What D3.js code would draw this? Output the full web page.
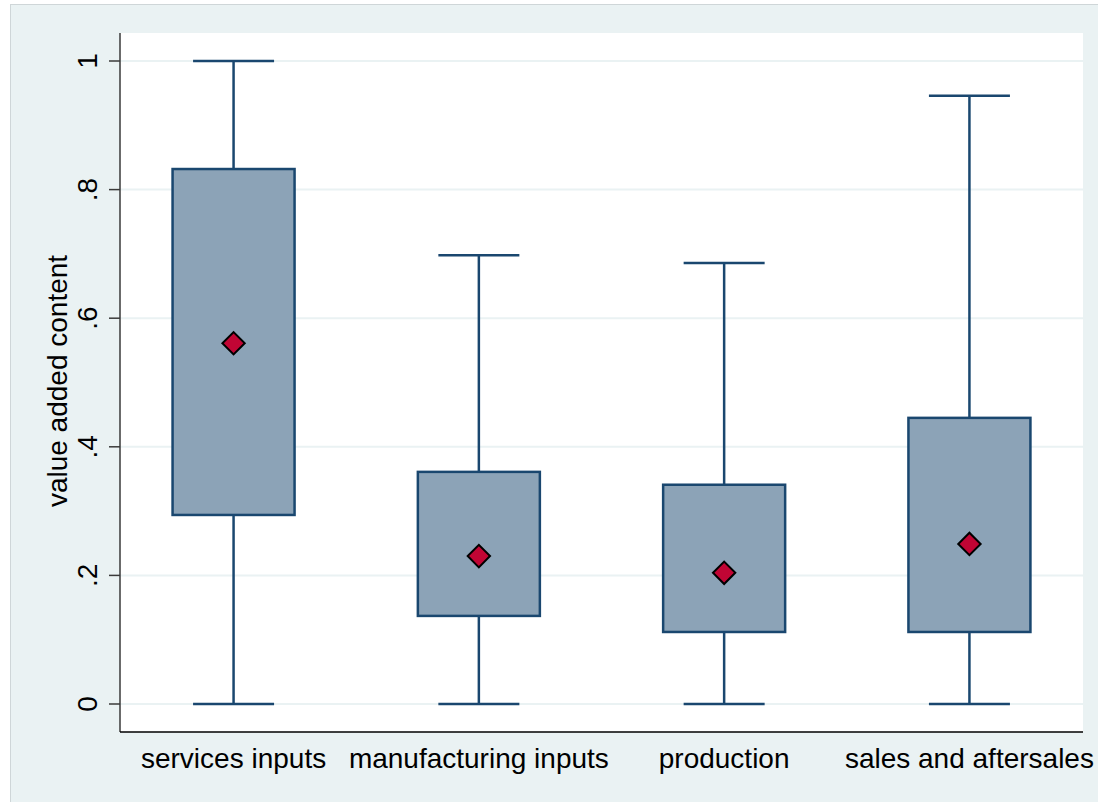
<!DOCTYPE html>
<html>
<head>
<meta charset="utf-8">
<script src="https://cdn.jsdelivr.net/npm/d3@7/dist/d3.min.js"></script>
<style>
  html, body { margin: 0; padding: 0; background: #ffffff; }
  svg { display: block; }
  text { font-family: "Liberation Sans", Arial, sans-serif; fill: #000; }
</style>
</head>
<body>
<svg id="chart" width="1098" height="802"></svg>
<script>
// Value added content by stage of the value chain
const categories = ["services inputs", "manufacturing inputs", "production", "sales and aftersales"];
const whiskerLow  = [0, 0, 0, 0];
const q1          = [0.294, 0.137, 0.112, 0.112];
const q3          = [0.832, 0.361, 0.341, 0.445];
const whiskerHigh = [1.0, 0.698, 0.686, 0.946];
const means       = [0.561, 0.230, 0.204, 0.249];
const yTicks      = [0, 0.2, 0.4, 0.6, 0.8, 1];
const yTickLabels = ["0", ".2", ".4", ".6", ".8", "1"];

const rows = categories.map((c, i) => ({
  cat: c, lo: whiskerLow[i], q1: q1[i], q3: q3[i], hi: whiskerHigh[i], mean: means[i]
}));

const svg = d3.select("#chart");
const W = 1098, H = 802;
const plot = { left: 120, right: 1083, top: 33, bottom: 732 };

// outer graph region
svg.append("rect")
  .attr("x", 10.5).attr("y", 4.5)
  .attr("width", W).attr("height", H)
  .attr("fill", "#eaf2f3")
  .attr("stroke", "#cfd6d8").attr("stroke-width", 1);

// plot region
svg.append("rect")
  .attr("x", plot.left).attr("y", plot.top)
  .attr("width", plot.right - plot.left).attr("height", plot.bottom - plot.top)
  .attr("fill", "#ffffff");

const y = d3.scaleLinear().domain([0, 1]).range([704, 61]);
const x = d3.scalePoint().domain(categories).range([plot.left, plot.right]).padding(0.463);

// gridlines
svg.append("g").selectAll("line").data(yTicks).join("line")
  .attr("x1", plot.left).attr("x2", plot.right)
  .attr("y1", d => y(d)).attr("y2", d => y(d))
  .attr("stroke", "#eaf2f3").attr("stroke-width", 2);

// boxes
const boxW = 122, capW = 81;
const stroke = "#1a476f";
const g = svg.append("g");
rows.forEach(r => {
  const cx = x(r.cat);
  g.append("line").attr("x1", cx).attr("x2", cx).attr("y1", y(r.hi)).attr("y2", y(r.q3))
    .attr("stroke", stroke).attr("stroke-width", 2.5);
  g.append("line").attr("x1", cx).attr("x2", cx).attr("y1", y(r.q1)).attr("y2", y(r.lo))
    .attr("stroke", stroke).attr("stroke-width", 2.5);
  g.append("line").attr("x1", cx - capW / 2).attr("x2", cx + capW / 2).attr("y1", y(r.hi)).attr("y2", y(r.hi))
    .attr("stroke", stroke).attr("stroke-width", 2.5);
  g.append("line").attr("x1", cx - capW / 2).attr("x2", cx + capW / 2).attr("y1", y(r.lo)).attr("y2", y(r.lo))
    .attr("stroke", stroke).attr("stroke-width", 2.5);
  g.append("rect").attr("x", cx - boxW / 2).attr("y", y(r.q3))
    .attr("width", boxW).attr("height", y(r.q1) - y(r.q3))
    .attr("fill", "#8ca3b7").attr("stroke", stroke).attr("stroke-width", 2.5);
});

// mean markers
const dsym = d3.symbol().type(d3.symbolSquare).size(250);
svg.append("g").selectAll("path").data(rows).join("path")
  .attr("d", dsym)
  .attr("transform", d => `translate(${x(d.cat)},${y(d.mean)}) rotate(45)`)
  .attr("fill", "#c10534").attr("stroke", "#000").attr("stroke-width", 2);

// y axis
const yAxis = svg.append("g");
yAxis.append("line").attr("x1", plot.left).attr("x2", plot.left)
  .attr("y1", plot.top).attr("y2", plot.bottom).attr("stroke", "#3a3a3a").attr("stroke-width", 1.5);
yAxis.selectAll("line.tick").data(yTicks).join("line").attr("class", "tick")
  .attr("x1", 109).attr("x2", plot.left).attr("y1", d => y(d)).attr("y2", d => y(d))
  .attr("stroke", "#3a3a3a").attr("stroke-width", 1.5);
yAxis.selectAll("text").data(yTicks).join("text")
  .attr("transform", d => `translate(97,${y(d)}) rotate(-90)`)
  .attr("text-anchor", "middle").attr("font-size", 28)
  .text((d, i) => yTickLabels[i]);

svg.append("text")
  .attr("transform", `translate(67,381) rotate(-90)`)
  .attr("text-anchor", "middle").attr("font-size", 28)
  .text("value added content");

// x axis
svg.append("line").attr("x1", plot.left).attr("x2", plot.right)
  .attr("y1", plot.bottom).attr("y2", plot.bottom).attr("stroke", "#000").attr("stroke-width", 1.5);
svg.append("g").selectAll("text").data(categories).join("text")
  .attr("x", d => x(d)).attr("y", 768)
  .attr("text-anchor", "middle").attr("font-size", 28)
  .text(d => d);
</script>
</body>
</html>
